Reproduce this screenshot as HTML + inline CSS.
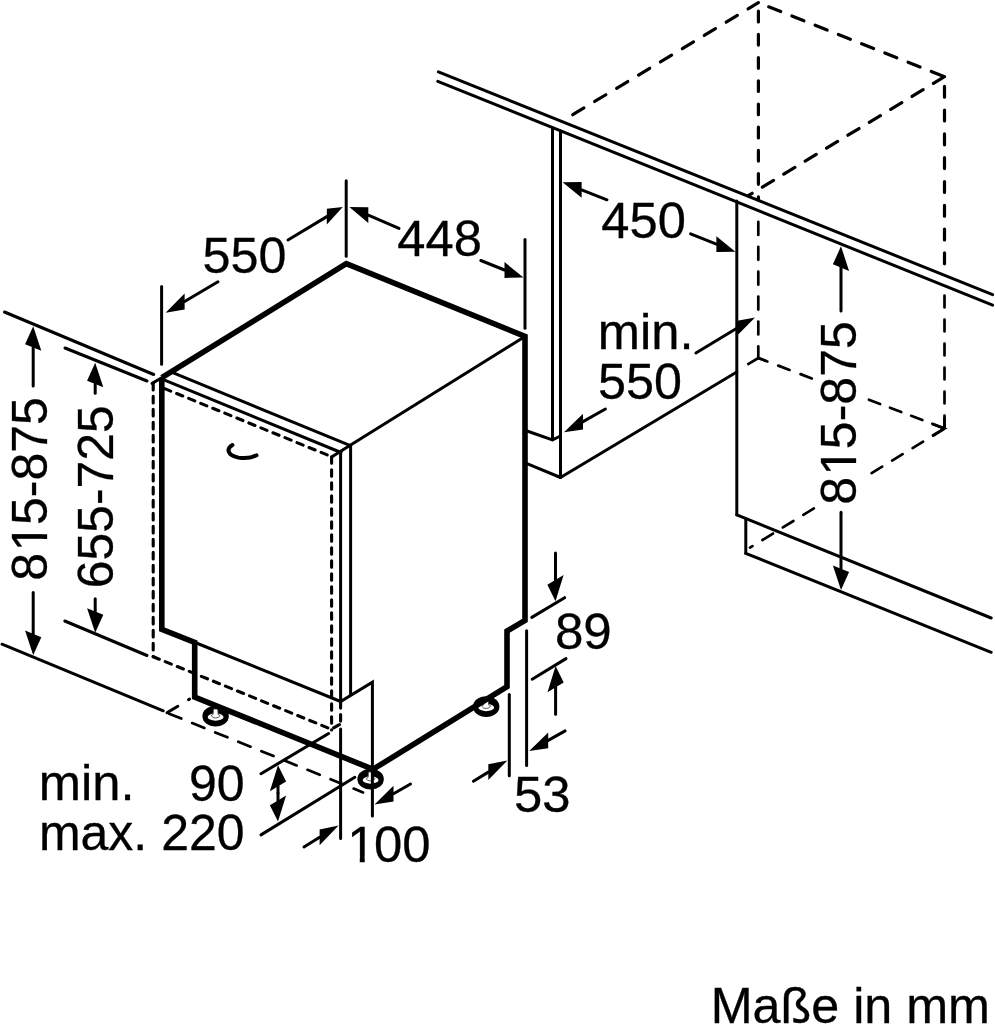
<!DOCTYPE html>
<html><head><meta charset="utf-8"><title>Maße in mm</title>
<style>
html,body{margin:0;padding:0;background:#fff}
svg{display:block}
text{font-family:"Liberation Sans",Arial,Helvetica,sans-serif;font-size:50.5px;fill:#000;stroke:#000;stroke-width:0.3}
.t{stroke:#000;stroke-width:3;fill:none;stroke-linecap:round}
.k{stroke:#000;stroke-width:5.6;fill:none;stroke-linejoin:miter}
.d{stroke:#000;stroke-width:3.1;fill:none;stroke-dasharray:6.6 6.4;stroke-linecap:round}
.D{stroke:#000;stroke-width:3.2;fill:none;stroke-dasharray:14.5 9}
.D2{stroke:#000;stroke-width:2.7;fill:none;stroke-dasharray:14.5 9.5}
.D2s{stroke:#000;stroke-width:2.7;fill:none}
.h{stroke:#000;stroke-width:4;fill:none;stroke-linecap:round}
.a{fill:#000;stroke:none}
</style></head><body>
<svg width="995" height="1024" viewBox="0 0 995 1024">
<rect width="995" height="1024" fill="#fff"/>
<line class="t" x1="438.4" y1="71.9" x2="992.6" y2="294.6"/>
<line class="t" x1="437.8" y1="81.3" x2="992.6" y2="305.2"/>
<line class="t" x1="552.5" y1="128.0" x2="552.5" y2="439.8"/>
<line class="t" x1="560.5" y1="131.0" x2="560.5" y2="477.5"/>
<polyline class="t" points="527.0,431.0 552.5,439.8 560.5,436.0"/>
<line class="t" x1="527.0" y1="463.7" x2="560.5" y2="477.5"/>
<line class="t" x1="560.5" y1="477.5" x2="736.8" y2="372.0"/>
<line class="t" x1="736.8" y1="201.0" x2="736.8" y2="514.8"/>
<line class="t" x1="736.8" y1="514.8" x2="991.2" y2="618.0"/>
<line class="t" x1="745.8" y1="519.0" x2="745.8" y2="553.3"/>
<line class="t" x1="745.8" y1="553.3" x2="991.2" y2="652.3"/>
<line class="D" x1="758.4" y1="2.7" x2="563.0" y2="120.6" style="stroke-linecap:round;stroke-dasharray:13.04 12.56;stroke-dashoffset:1.02"/>
<line class="D" x1="944.5" y1="76.7" x2="758.4" y2="2.7" style="stroke-linecap:round;stroke-dasharray:12.94 12.06;stroke-dashoffset:-1.28"/>
<line class="D" x1="758.4" y1="2.7" x2="758.4" y2="200.0" style="stroke-linecap:round;stroke-dasharray:10.74 12.46;stroke-dashoffset:14.72"/>
<line class="D" x1="944.5" y1="76.7" x2="748.3" y2="195.6" style="stroke-linecap:round;stroke-dasharray:12.94 12.06;stroke-dashoffset:0.02"/>
<line class="D" x1="944.5" y1="76.7" x2="944.5" y2="276.0" style="stroke-linecap:round;stroke-dasharray:10.94 12.86;stroke-dashoffset:14.22"/>
<line class="D2" x1="944.5" y1="428.5" x2="944.5" y2="285.0" style="stroke-linecap:round;stroke-dasharray:11.84 12.16;stroke-dashoffset:-1.08"/>
<line class="D2" x1="758.3" y1="358.0" x2="758.3" y2="215.0" style="stroke-linecap:round;stroke-dasharray:13.04 11.86;stroke-dashoffset:1.42"/>
<polyline class="D2s" points="747.3,364.6 758.3,358.0 766.0,360.9"/>
<polyline class="D2s" points="932.3,423.9 944.5,428.5 932.3,436.0"/>
<line class="D2s" x1="944.5" y1="428.5" x2="944.5" y2="417.5"/>
<line class="D2" x1="944.5" y1="428.5" x2="866.0" y2="398.6" style="stroke-linecap:round;stroke-dasharray:12.04 10.56;stroke-dashoffset:-1.08"/>
<line class="D2" x1="812.8" y1="378.8" x2="758.3" y2="358.0" style="stroke-linecap:round;stroke-dasharray:12.04 11.76;stroke-dashoffset:-1.08"/>
<line class="D2" x1="944.5" y1="428.5" x2="868.0" y2="475.3" style="stroke-linecap:round;stroke-dasharray:12.34 11.66;stroke-dashoffset:-1.08"/>
<line class="D2" x1="814.8" y1="507.9" x2="750.0" y2="547.6" style="stroke-linecap:round;stroke-dasharray:12.34 11.66;stroke-dashoffset:-1.08"/>
<line class="t" x1="581.6" y1="189.8" x2="607.0" y2="199.8"/>
<polygon class="a" points="562.6,182.3 581.6,181.9 581.6,197.7"/>
<line class="t" x1="716.4" y1="244.2" x2="690.6" y2="233.8"/>
<polygon class="a" points="735.4,251.8 716.4,236.3 716.4,252.1"/>
<text transform="translate(601.34 237.90) scale(1.0034 1)">450</text>
<line class="t" x1="736.0" y1="328.8" x2="695.9" y2="353.0"/>
<polygon class="a" points="755.0,317.4 736.0,320.9 736.0,336.7"/>
<line class="t" x1="583.0" y1="421.6" x2="605.4" y2="409.0"/>
<polygon class="a" points="564.0,432.3 583.0,413.7 583.0,429.5"/>
<text transform="translate(597.83 349.00) scale(1.0041 1)">min.</text>
<text transform="translate(597.99 399.20) scale(0.9955 1)">550</text>
<line class="t" x1="841.0" y1="267.6" x2="841.0" y2="311.0"/>
<polygon class="a" points="841.0,246.3 832.9,264.3 849.1,270.9"/>
<line class="t" x1="841.0" y1="568.7" x2="841.0" y2="512.3"/>
<polygon class="a" points="841.0,590.0 832.9,565.4 849.1,572.0"/>
<clipPath id="c1"><path clip-rule="evenodd" d="M-20,-70H205.3V30H-20Z M32.29,-4.87H42.09V2H32.29Z M46.95,-4.87H56.36V2H46.95Z"/></clipPath>
<text transform="translate(856.40 504.77) rotate(-90) scale(0.9905 1)" clip-path="url(#c1)">8<tspan dx="1.50">1</tspan><tspan dx="-1.50">5</tspan>-875</text>
<ellipse cx="215.6" cy="716.2" rx="13.2" ry="10.4" fill="#000"/>
<ellipse cx="215.6" cy="717" rx="7.9" ry="3.7" fill="#fff"/>
<path d="M213.4,709 L217.79999999999998,709 L218.1,714.4 Q220.0,714.8 220.0,715.8 Q218.6,718 215.6,718 Q212.6,718 211.2,715.8 Q211.2,714.8 213.1,714.4 Z" fill="#fff" stroke="#333" stroke-width="0.8"/>
<ellipse cx="370.6" cy="779.2" rx="13.2" ry="10.4" fill="#000"/>
<ellipse cx="370.6" cy="780" rx="7.9" ry="3.7" fill="#fff"/>
<path d="M368.40000000000003,772 L372.8,772 L373.1,777.4 Q375.0,777.8 375.0,778.8 Q373.6,781 370.6,781 Q367.6,781 366.20000000000005,778.8 Q366.20000000000005,777.8 368.1,777.4 Z" fill="#fff" stroke="#333" stroke-width="0.8"/>
<ellipse cx="486.2" cy="706.7" rx="13.2" ry="10.4" fill="#000"/>
<ellipse cx="486.2" cy="707.5" rx="7.9" ry="3.7" fill="#fff"/>
<path d="M484.0,699.5 L488.4,699.5 L488.7,704.9 Q490.59999999999997,705.3 490.59999999999997,706.3 Q489.2,708.5 486.2,708.5 Q483.2,708.5 481.8,706.3 Q481.8,705.3 483.7,704.9 Z" fill="#fff" stroke="#333" stroke-width="0.8"/>
<polyline class="k" points="161.8,377.7 346.3,263.6 525.0,336.4 525.0,620.3 507.0,631.2 507.0,686.6 371.6,770.2"/>
<polyline class="k" points="161.8,377.7 161.8,629.4 194.7,642.3 194.7,697.0 370.8,768.4"/>
<line class="t" x1="525.0" y1="336.4" x2="349.8" y2="445.4"/>
<line class="t" x1="173.4" y1="372.9" x2="349.8" y2="445.4"/>
<line class="t" x1="164.6" y1="380.1" x2="341.0" y2="452.5"/>
<line class="t" x1="331.6" y1="456.9" x2="349.8" y2="445.4"/>
<line class="t" x1="152.1" y1="383.4" x2="161.8" y2="377.7"/>
<line class="d" x1="164.6" y1="388.6" x2="331.6" y2="456.7"/>
<line class="d" x1="331.6" y1="456.7" x2="331.6" y2="729.9"/>
<line class="d" x1="153.2" y1="383.4" x2="153.2" y2="656.7"/>
<polyline class="d" points="153.2,656.7 331.2,729.2 339.4,724.6"/>
<line class="t" x1="340.6" y1="452.5" x2="340.6" y2="701.5"/>
<line class="d" x1="340.6" y1="701.5" x2="340.6" y2="726.0"/>
<line class="t" x1="340.6" y1="729.0" x2="340.6" y2="838.5"/>
<line class="t" x1="350.6" y1="445.4" x2="350.6" y2="694.3"/>
<polyline class="t" points="196.3,643.0 340.6,701.5 372.4,682.2 372.4,815.9"/>
<line class="t" x1="525.0" y1="239.6" x2="525.0" y2="328.2"/>
<line class="t" x1="346.2" y1="180.8" x2="346.2" y2="256.2"/>
<line class="t" x1="161.6" y1="286.4" x2="161.6" y2="364.2"/>
<path class="h" d="M232.4,445 C226.5,448.5 226.5,455 238.5,457.6 C245.5,458.8 252,457.6 256.5,455.3"/>
<line class="t" x1="4.5" y1="312.0" x2="153.7" y2="374.5"/>
<line class="t" x1="65.0" y1="348.0" x2="147.0" y2="381.0"/>
<line class="t" x1="2.0" y1="644.2" x2="163.3" y2="710.8"/>
<line class="t" x1="64.8" y1="621.0" x2="147.0" y2="655.5"/>
<line class="D2" x1="167.0" y1="712.8" x2="363.0" y2="792.4" style="stroke-linecap:round;stroke-dasharray:13.14 11.76;stroke-dashoffset:-2.28"/>
<line class="t" x1="167.0" y1="712.8" x2="177.8" y2="706.3"/>
<line class="t" x1="188.5" y1="699.7" x2="189.5" y2="699.1"/>
<line class="t" x1="33.2" y1="347.5" x2="33.2" y2="386.0"/>
<polygon class="a" points="33.2,326.2 25.1,344.2 41.3,350.8"/>
<line class="t" x1="33.2" y1="633.9" x2="33.2" y2="592.6"/>
<polygon class="a" points="33.2,655.2 25.1,630.6 41.3,637.2"/>
<line class="t" x1="95.2" y1="384.0" x2="95.2" y2="393.3"/>
<polygon class="a" points="95.2,362.7 87.1,380.7 103.3,387.3"/>
<line class="t" x1="95.2" y1="611.5" x2="95.2" y2="598.8"/>
<polygon class="a" points="95.2,632.8 87.1,608.2 103.3,614.8"/>
<clipPath id="c2"><path clip-rule="evenodd" d="M-20,-70H205.3V30H-20Z M32.29,-4.87H42.09V2H32.29Z M46.95,-4.87H56.36V2H46.95Z"/></clipPath>
<text transform="translate(47.20 580.67) rotate(-90) scale(0.9905 1)" clip-path="url(#c2)">8<tspan dx="1.50">1</tspan><tspan dx="-1.50">5</tspan>-875</text>
<text transform="translate(112.50 588.23) rotate(-90) scale(0.9870 1)">655-725</text>
<line class="t" x1="326.8" y1="216.6" x2="288.0" y2="240.0"/>
<polygon class="a" points="342.8,207.0 326.8,208.7 326.8,224.5"/>
<line class="t" x1="184.6" y1="301.5" x2="218.0" y2="281.7"/>
<polygon class="a" points="165.6,312.7 184.6,293.6 184.6,309.4"/>
<text transform="translate(202.49 273.20) scale(0.9955 1)">550</text>
<line class="t" x1="368.3" y1="215.2" x2="399.0" y2="228.4"/>
<polygon class="a" points="349.3,207.0 368.3,207.3 368.3,223.1"/>
<line class="t" x1="504.5" y1="270.0" x2="480.8" y2="260.5"/>
<polygon class="a" points="523.5,277.6 504.5,262.1 504.5,277.9"/>
<text transform="translate(397.34 256.00) scale(1.0037 1)">448</text>
<line class="t" x1="555.5" y1="579.9" x2="555.5" y2="553.0"/>
<polygon class="a" points="555.5,601.2 547.4,584.8 563.6,575.0"/>
<line class="t" x1="555.6" y1="687.3" x2="555.6" y2="714.3"/>
<polygon class="a" points="555.6,666.0 547.5,692.2 563.7,682.4"/>
<line class="t" x1="531.8" y1="617.4" x2="564.6" y2="597.7"/>
<line class="t" x1="532.2" y1="679.2" x2="566.0" y2="658.6"/>
<text transform="translate(554.88 649.20) scale(1.0119 1)">89</text>
<line class="t" x1="526.6" y1="630.8" x2="526.6" y2="765.6"/>
<line class="t" x1="509.3" y1="694.6" x2="509.3" y2="775.8"/>
<line class="t" x1="548.2" y1="740.4" x2="565.1" y2="730.9"/>
<polygon class="a" points="529.2,751.0 548.2,732.5 548.2,748.3"/>
<line class="t" x1="488.3" y1="772.1" x2="473.4" y2="781.2"/>
<polygon class="a" points="507.3,760.6 488.3,764.2 488.3,780.0"/>
<text transform="translate(514.07 811.70) scale(1.0052 1)">53</text>
<line class="t" x1="261.0" y1="773.7" x2="328.6" y2="733.5"/>
<line class="t" x1="261.0" y1="834.9" x2="354.8" y2="777.3"/>
<line class="t" x1="278.0" y1="786.3" x2="278.0" y2="793.0"/>
<polygon class="a" points="278.0,765.3 269.9,791.2 286.1,781.4"/>
<line class="t" x1="278.0" y1="800.4" x2="278.0" y2="793.0"/>
<polygon class="a" points="278.0,821.4 269.9,805.3 286.1,795.5"/>
<line class="t" x1="319.6" y1="837.3" x2="304.0" y2="847.0"/>
<polygon class="a" points="338.6,825.5 319.6,829.4 319.6,845.2"/>
<line class="t" x1="393.5" y1="793.7" x2="410.5" y2="784.0"/>
<polygon class="a" points="374.5,804.5 393.5,785.8 393.5,801.6"/>
<clipPath id="c3"><path clip-rule="evenodd" d="M-20,-70H104.3V30H-20Z M4.20,-4.87H14.00V2H4.20Z M18.87,-4.87H28.27V2H18.87Z"/></clipPath>
<text transform="translate(345.69 861.70) scale(1.0076 1)" clip-path="url(#c3)"><tspan dx="1.50">1</tspan><tspan dx="-1.50">0</tspan>0</text>
<text transform="translate(38.84 799.90) scale(1.0030 1)">min.</text>
<text transform="translate(189.06 800.50) scale(0.9897 1)">90</text>
<text transform="translate(38.88 850.10) scale(0.9906 1)">max. 220</text>
<text transform="translate(710.68 1023.20) scale(0.9956 1)">Maße in mm</text>
</svg>
</body></html>
